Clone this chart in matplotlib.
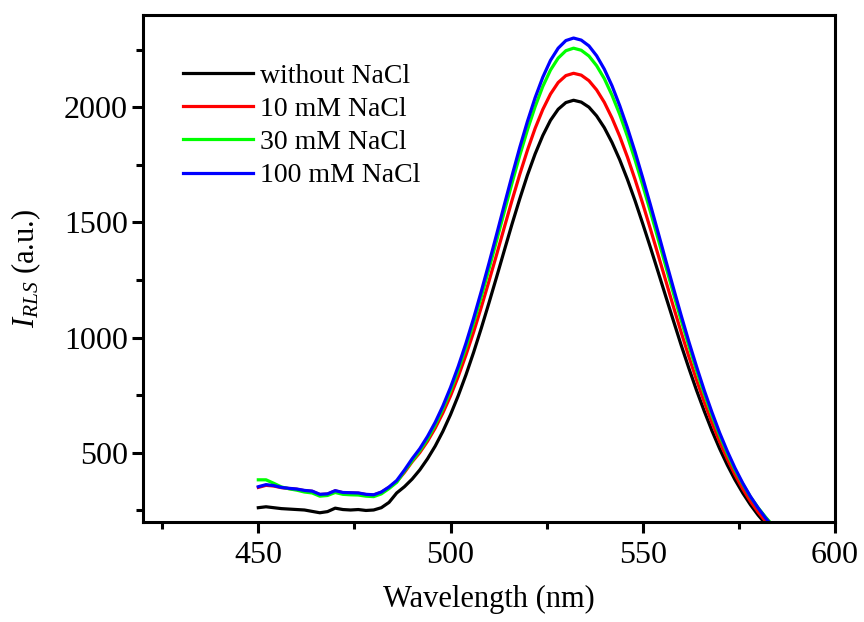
"""
RLS spectra with different NaCl concentrations
"""
import numpy as np
import matplotlib
matplotlib.use('Agg')
import matplotlib.pyplot as plt
from matplotlib.ticker import MultipleLocator

# wavelength grid (nm), 2 nm steps
wavelength = np.arange(450, 586, 2)

without_nacl = [262, 266, 262, 258, 256, 254, 252, 246, 240, 245, 260, 254, 252, 254, 250, 252, 262, 285,
                326, 353, 386, 426, 474, 529, 593, 666, 748, 838, 936, 1041, 1151, 1264, 1379, 1493,
                1602, 1705, 1797, 1877, 1943, 1991, 2020, 2030,
                2022, 2000, 1962, 1911, 1847, 1772, 1687, 1594, 1494, 1391, 1285, 1178, 1072, 967,
                867, 771, 681, 596, 518, 447, 383, 326, 275, 230, 191, 158]

nacl_10 = [350, 359, 356, 349, 345, 342, 336, 333, 319, 321, 335, 327, 326, 325, 319, 317, 329, 350,
           375, 415, 461, 501, 550, 607, 673, 747, 831, 924, 1024, 1132, 1245, 1361, 1479, 1596,
           1708, 1813, 1908, 1990, 2057, 2107, 2137, 2147,
           2139, 2115, 2075, 2021, 1953, 1874, 1784, 1686, 1581, 1471, 1359, 1246, 1133, 1023,
           917, 816, 720, 631, 548, 473, 405, 344, 290, 243, 202, 167]

nacl_30 = [383, 383, 368, 352, 344, 338, 330, 326, 312, 315, 328, 320, 318, 317, 312, 310, 322, 345,
           372, 420, 465, 509, 560, 621, 691, 770, 859, 957, 1064, 1178, 1298, 1422, 1547, 1671,
           1790, 1901, 2002, 2090, 2161, 2213, 2245, 2256,
           2247, 2222, 2180, 2124, 2052, 1969, 1874, 1771, 1661, 1546, 1428, 1309, 1191, 1075,
           964, 857, 756, 663, 576, 497, 426, 365, 309, 262, 220, 182]

nacl_100 = [353, 362, 358, 350, 346, 343, 337, 334, 320, 322, 336, 328, 327, 326, 320, 318, 330, 352,
            380, 425, 474, 518, 571, 632, 703, 784, 875, 975, 1084, 1201, 1323, 1449, 1577, 1703,
            1825, 1938, 2041, 2130, 2203, 2256, 2289, 2300,
            2291, 2266, 2223, 2165, 2093, 2007, 1911, 1806, 1693, 1576, 1456, 1334, 1214, 1096,
            982, 874, 771, 676, 587, 507, 434, 369, 311, 261, 216, 178]

labels = ['without NaCl', '10 mM NaCl', '30 mM NaCl', '100 mM NaCl']
colors = ['#000000', '#ff0000', '#00ff00', '#0000ff']

plt.rcParams['font.family'] = ['Liberation Serif', 'DejaVu Serif']
plt.rcParams['mathtext.fontset'] = 'custom'
plt.rcParams['mathtext.rm'] = 'Liberation Serif'
plt.rcParams['mathtext.it'] = 'Liberation Serif:italic'

fig = plt.figure(figsize=(8.64, 6.22), dpi=100)
ax = fig.add_axes([0.1655, 0.1608, 0.8009, 0.8151])

for ys, col, lab in zip([without_nacl, nacl_10, nacl_30, nacl_100], colors, labels):
    ax.plot(wavelength, ys, color=col, lw=2.3, label=lab)

ax.set_xlim(420, 600)
ax.set_ylim(200, 2400)
ax.xaxis.set_major_locator(MultipleLocator(50))
ax.xaxis.set_minor_locator(MultipleLocator(25))
ax.yaxis.set_major_locator(MultipleLocator(500))
ax.yaxis.set_minor_locator(MultipleLocator(250))

for sp in ax.spines.values():
    sp.set_linewidth(2.2)
ax.tick_params(which='major', direction='out', length=8, width=2.2, labelsize=23, pad=3)
ax.tick_params(which='minor', direction='out', length=5, width=2.2)
ax.tick_params(axis='x', which='major', pad=6)

ax.set_xlabel('Wavelength (nm)', fontsize=22)
ax.set_ylabel(r'$I_{RLS}$ (a.u.)', fontsize=22)
ax.xaxis.set_label_coords(0.5, -0.125)
ax.yaxis.set_label_coords(-0.145, 0.5)

ax.legend(loc='upper left', bbox_to_anchor=(0.058, 0.905), frameon=False, fontsize=20,
          handlelength=2.5, handletextpad=0.25, labelspacing=0.28, borderpad=0, borderaxespad=0)

fig.savefig('out.png', dpi=100)
